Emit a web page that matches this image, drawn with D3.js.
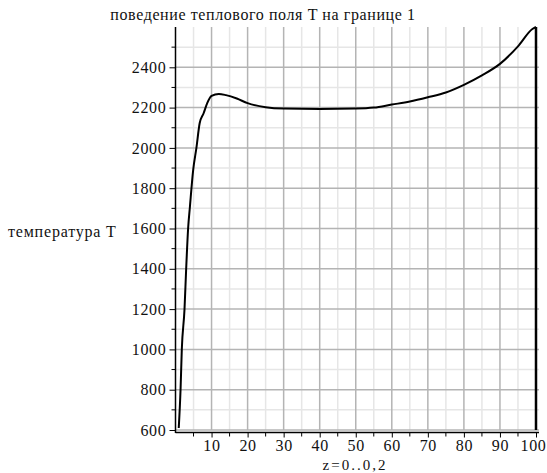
<!DOCTYPE html>
<html>
<head>
<meta charset="utf-8">
<script src="https://cdn.jsdelivr.net/npm/d3@7"></script>
<style>
  body { margin: 0; background: #fff; }
</style>
</head>
<body>
<div id="graph"></div>
<script>
// temperature T along the boundary
let zVals = [0.9, 1.4, 1.75, 2.5, 2.96, 3.5, 4.0, 4.9, 5.8, 6.7, 7.8, 8.8, 10, 12, 14, 17, 20, 25, 30, 40, 50, 55, 60, 65, 70, 75, 80, 85, 90, 95, 99, 100, 100];
let tVals = [610, 800, 1000, 1200, 1400, 1600, 1708, 1890, 2000, 2122, 2172, 2222, 2258, 2268, 2262, 2245, 2222, 2202, 2195, 2193, 2195, 2200, 2215, 2230, 2251, 2275, 2313, 2360, 2417, 2504, 2590, 2600, 600];
let xTicks = [10, 20, 30, 40, 50, 60, 70, 80, 90, 100];
let yTicks = [600, 800, 1000, 1200, 1400, 1600, 1800, 2000, 2200, 2400];
let titleText = "поведение теплового поля T на границе 1";
let xLabel = "z=0..0,2";
let yLabel = "температура T";

(function() {
    let width = 547, height = 473;
    let left = 175.5, right = 539, top = 27, bottom = 430;
    let serif = "'Liberation Serif', 'DejaVu Serif', serif";

    let svg = d3.select("#graph")
        .append("svg")
        .attr("width", width)
        .attr("height", height);

    let x = d3.scaleLinear().domain([0, 100]).range([left, 536]);
    let y = d3.scaleLinear().domain([600, 2600]).range([bottom, top]);

    // minor grid (every 5 in z, every 100 in T)
    let grid = svg.append("g");
    grid.selectAll(".vminor")
        .data(d3.range(5, 101, 10))
        .join("line")
        .attr("x1", d => x(d)).attr("x2", d => x(d))
        .attr("y1", top).attr("y2", bottom)
        .attr("stroke", "#e6e6e6").attr("stroke-width", 1.5);
    grid.selectAll(".hminor")
        .data(d3.range(700, 2600, 200))
        .join("line")
        .attr("x1", left).attr("x2", right)
        .attr("y1", d => y(d)).attr("y2", d => y(d))
        .attr("stroke", "#e6e6e6").attr("stroke-width", 1.5);

    // major grid
    grid.selectAll(".vmajor")
        .data(xTicks)
        .join("line")
        .attr("x1", d => x(d)).attr("x2", d => x(d))
        .attr("y1", top).attr("y2", bottom)
        .attr("stroke", "#b4b4b4").attr("stroke-width", 1.5);
    grid.selectAll(".hmajor")
        .data(yTicks)
        .join("line")
        .attr("x1", left).attr("x2", right)
        .attr("y1", d => y(d)).attr("y2", d => y(d))
        .attr("stroke", "#b4b4b4").attr("stroke-width", 1.5);

    // x axis
    let xAxis = svg.append("g")
        .attr("transform", "translate(0," + (bottom + 2.5) + ")")
        .call(d3.axisBottom(x).tickValues(xTicks).tickFormat(d3.format("d"))
            .tickSize(5).tickPadding(2).tickSizeOuter(0));
    xAxis.select(".domain").attr("d", `M${left},0H${right}`).attr("stroke", "#000").attr("stroke-width", 1.5);
    xAxis.selectAll("text")
        .style("font-family", serif).style("font-size", "16px")
        .style("letter-spacing", "0.7px").style("fill", "#111")
        .attr("dx", d => d === 100 ? -3 : 0);
    xAxis.selectAll(".minor")
        .data(d3.range(5, 100, 10))
        .join("line")
        .attr("class", "minor")
        .attr("x1", d => x(d)).attr("x2", d => x(d))
        .attr("y1", 0).attr("y2", 4)
        .attr("stroke", "#000");

    // y axis
    let yAxis = svg.append("g")
        .attr("transform", `translate(${left}, 0)`)
        .call(d3.axisLeft(y).tickValues(yTicks).tickFormat(d3.format("d"))
            .tickSize(6).tickPadding(3).tickSizeOuter(0));
    yAxis.select(".domain").attr("d", `M0,${top}V${bottom + 3}`).attr("stroke", "#000").attr("stroke-width", 1.5);
    yAxis.selectAll("text")
        .style("font-family", serif).style("font-size", "16px")
        .style("letter-spacing", "0.7px").style("fill", "#111");
    yAxis.selectAll(".minor")
        .data(d3.range(700, 2600, 200))
        .join("line")
        .attr("class", "minor")
        .attr("x1", -4).attr("x2", 0)
        .attr("y1", d => y(d)).attr("y2", d => y(d))
        .attr("stroke", "#000");

    // curve: smooth rise and plateau, then the drop at z = 100
    let pts = zVals.map((z, i) => ({z: z, t: tVals[i]}));
    let n = pts.length;
    svg.append("path")
        .datum(pts.slice(0, n - 1))
        .attr("fill", "none")
        .attr("stroke", "#000")
        .attr("stroke-width", 2)
        .attr("d", d3.line()
            .x(d => x(d.z))
            .y(d => y(d.t))
            .curve(d3.curveMonotoneX));
    svg.append("path")
        .datum(pts.slice(n - 2))
        .attr("fill", "none")
        .attr("stroke", "#000")
        .attr("stroke-width", 2.5)
        .attr("d", d3.line().x(d => x(d.z)).y(d => y(d.t)));

    // labels
    svg.append("text")
        .attr("x", 263).attr("y", 20)
        .style("text-anchor", "middle")
        .style("font-family", serif).style("font-size", "16px").style("fill", "#111")
        .style("letter-spacing", "0.6px")
        .text(titleText);

    svg.append("text")
        .attr("x", 355).attr("y", 470)
        .style("text-anchor", "middle")
        .style("font-family", serif).style("font-size", "15px").style("fill", "#111")
        .style("letter-spacing", "2px")
        .text(xLabel);

    svg.append("text")
        .attr("x", 8).attr("y", 237)
        .style("font-family", serif).style("font-size", "16px").style("fill", "#111")
        .style("letter-spacing", "0.8px")
        .text(yLabel);
}) ();
</script>
</body>
</html>
